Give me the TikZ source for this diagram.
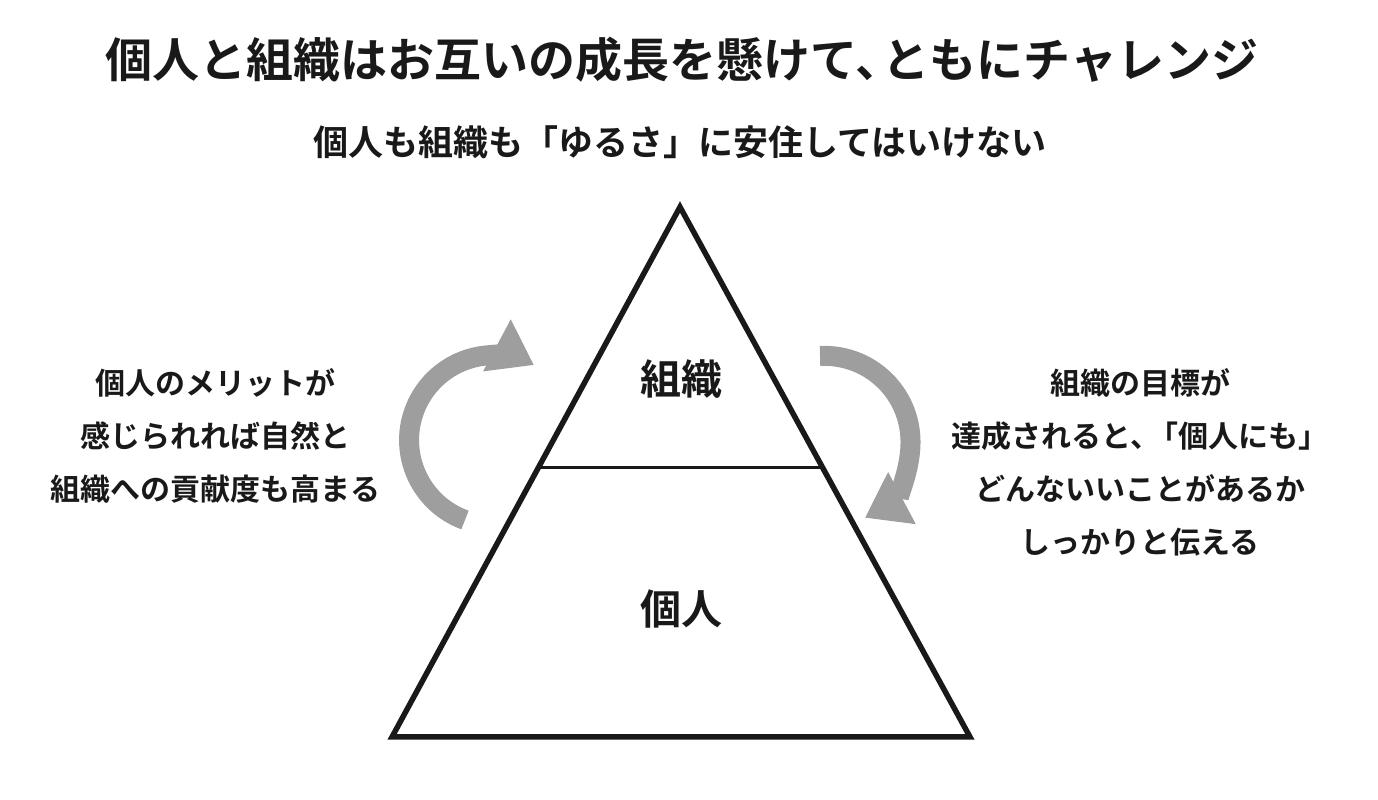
\documentclass[tikz,border=0pt]{standalone}
\usepackage{fontspec}
\newfontfamily\jpfont{Noto Sans CJK JP}[BoldFont={Noto Sans CJK JP Bold}]
\usetikzlibrary{arrows.meta}

\begin{document}
\begin{tikzpicture}[x=1pt,y=1pt,
    txt/.style={font=\jpfont\bfseries, text=black!90, inner sep=0pt},
    loop/.style={line width=20pt, color=black!38,
        -{Triangle[width=56pt,length=42pt]}}]

% Canvas
\useasboundingbox (0,0) rectangle (1378,800);

% Headings
\node[txt, font=\jpfont\bfseries\fontsize{47}{56}\selectfont] (title) at (682,740)
    {個人と組織はお互いの成長を懸けて、\kern-20pt ともにチャレンジ};
\node[txt, font=\jpfont\bfseries\fontsize{35}{42}\selectfont] (sub) at (680,658)
    {個人も組織も「ゆるさ」に安住してはいけない};

% Pyramid
\coordinate (apex) at (680,593);
\coordinate (bl) at (392,63);
\coordinate (br) at (970,63);
\draw[line width=5.5pt, black!90, line join=miter] (apex) -- (bl) -- (br) -- cycle;
\coordinate (ml) at (538,332);
\coordinate (mr) at (822,332);
\draw[line width=3pt, black!90] (ml) -- (mr);
\node[txt, font=\jpfont\bfseries\fontsize{41}{48}\selectfont] (org) at (681,421) {組織};
\node[txt, font=\jpfont\bfseries\fontsize{41}{48}\selectfont] (ind) at (681,191) {個人};

% Side notes
\node[txt, align=center, font=\jpfont\bfseries\fontsize{30}{53}\selectfont] (left) at (215,364)
    {個人のメリットが\\感じられれば自然と\\組織への貢献度も高まる};
\node[txt, align=center, font=\jpfont\bfseries\fontsize{30}{53}\selectfont] (right) at (1140,338)
    {組織の目標が\\達成されると、\kern-12pt「個人にも」\\どんないいことがあるか\\しっかりと伝える};

% Cycle arrows
\draw[loop] (465,280) arc[start angle=250, end angle=62, radius=85];
\draw[loop] (820,444) arc[start angle=93, end angle=-62, radius=86];

\end{tikzpicture}
\end{document}
